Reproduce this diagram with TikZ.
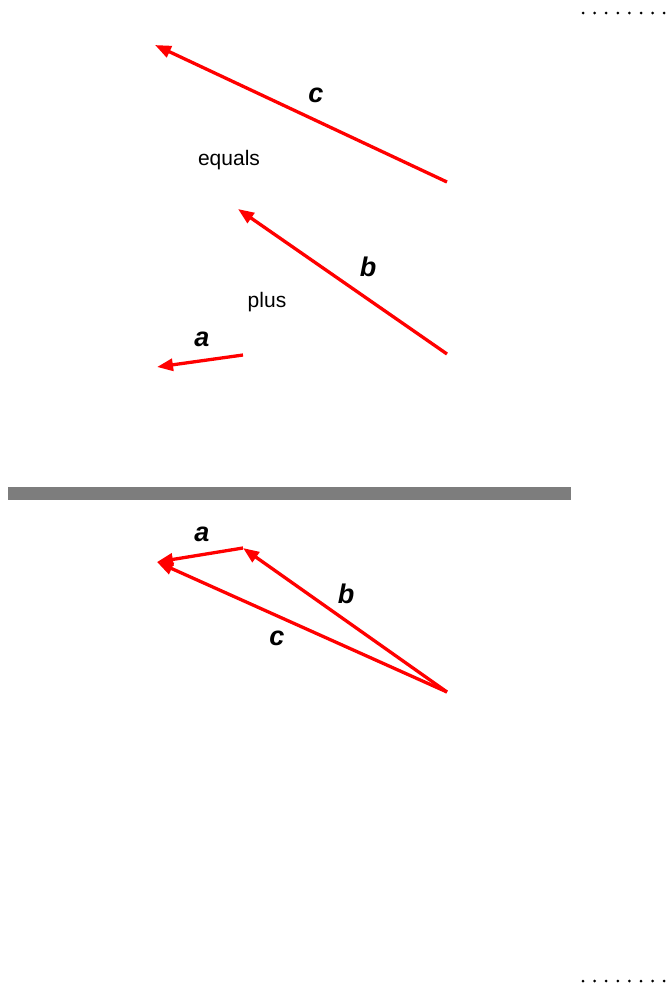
\documentclass[tikz,border=0pt]{standalone}
\usepackage{fontspec}
\setmainfont{Liberation Sans}
\usetikzlibrary{arrows.meta}
\begin{document}
\begin{tikzpicture}[x=1pt,y=-1pt,
  vec/.style={draw=red,line width=3.3pt,-{Triangle[length=16pt,width=12pt]}},
  word/.style={anchor=base,inner sep=0pt,font=\fontsize{21}{24}\selectfont},
  vlabel/.style={anchor=base,inner sep=0pt,font=\fontsize{27}{30}\selectfont\bfseries\itshape},
  dot/.style={fill=black,circle,inner sep=0pt,minimum size=3pt}]
\useasboundingbox (0,0) rectangle (669,988);
% top section
\coordinate (cS) at (447,182);
\coordinate (cE) at (155,45);
\coordinate (bS) at (447,354);
\coordinate (bE) at (238,209);
\coordinate (aS) at (243,355);
\coordinate (aE) at (157,367);
\draw[vec] (cS) -- (cE);
\draw[vec] (bS) -- (bE);
\draw[vec] (aS) -- (aE);
\node[vlabel] (lc1) at (316,102) {c};
\node[vlabel] (lb1) at (368,276) {b};
\node[vlabel] (la1) at (202,346) {a};
\node[word] (eq) at (229,165) {equals};
\node[word] (pl) at (267,307) {plus};
% separator bar
\fill[fill={rgb,255:red,125;green,125;blue,125}] (8,487) rectangle (571,500);
% bottom section
\coordinate (O) at (447,692);
\coordinate (P) at (243,548);
\coordinate (Q) at (157,562);
\draw[vec] (O) -- (P);
\draw[vec] (O) -- (Q);
\draw[vec] (P) -- (Q);
\node[vlabel] (la2) at (202,541) {a};
\node[vlabel] (lb2) at (346,603) {b};
\node[vlabel] (lc2) at (277,645) {c};
% dotted edges
\foreach \k in {0,...,7}{
  \node[dot] (t\k) at ({583+11.6*\k},13) {};
  \node[dot] (u\k) at ({583+11.6*\k},981) {};
}
\end{tikzpicture}
\end{document}
